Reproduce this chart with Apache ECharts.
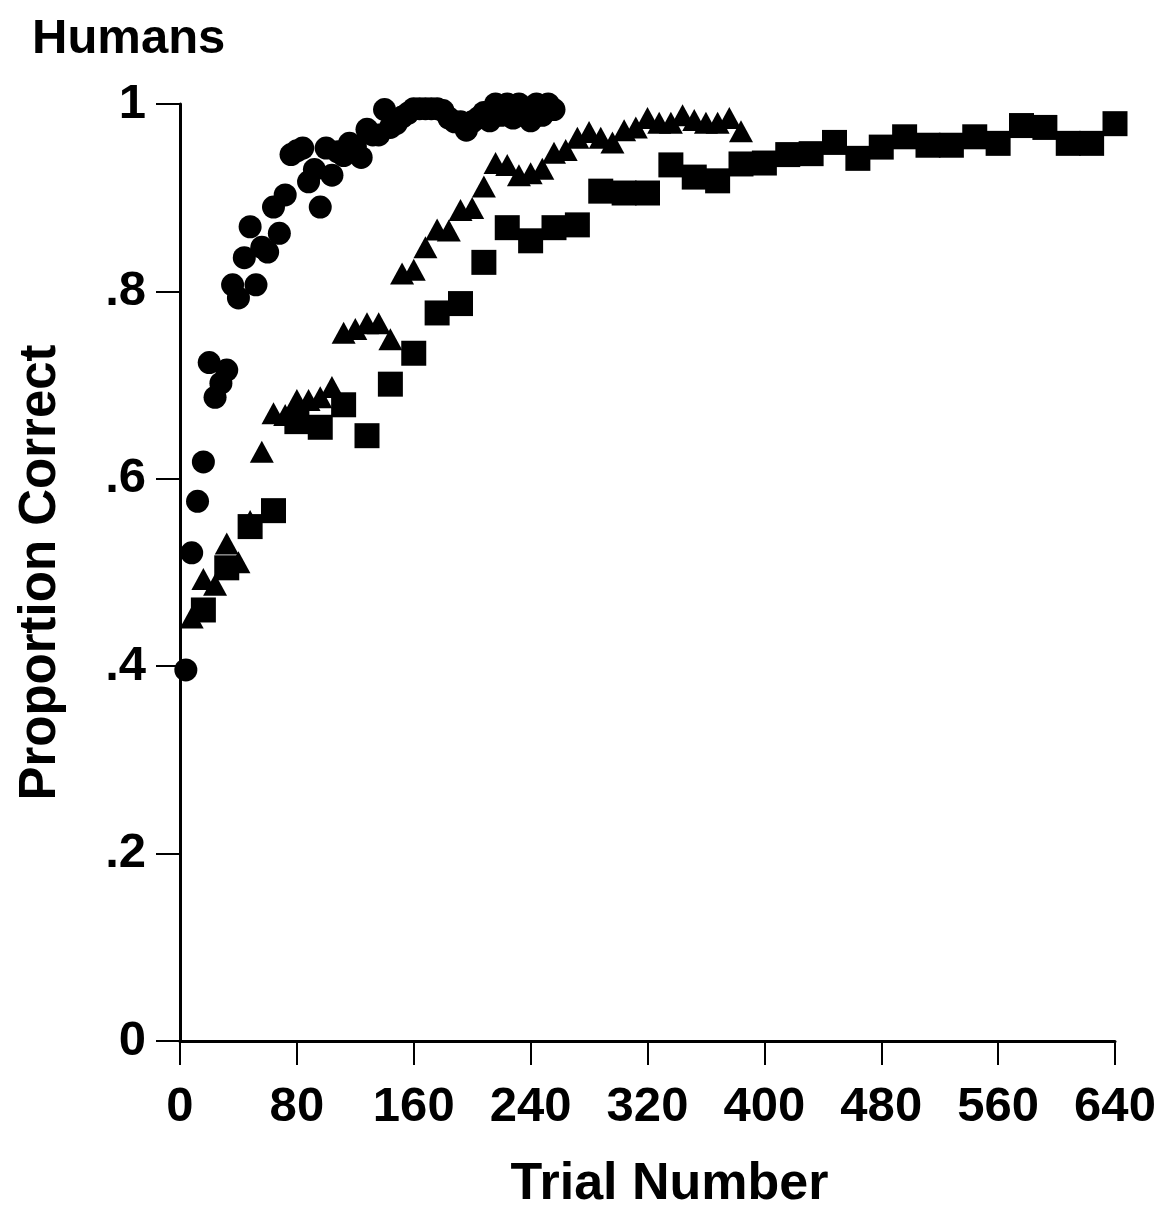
<!DOCTYPE html>
<html>
<head>
<meta charset="utf-8">
<script src="https://cdn.jsdelivr.net/npm/echarts@6/dist/echarts.min.js"></script>
<style>
html,body{margin:0;padding:0;background:#fff;}
#c{width:1173px;height:1212px;}
</style>
</head>
<body>
<div id="c"></div>
<script>
const chartTitle = 'Humans';
const xAxisName = 'Trial Number';
const yAxisName = 'Proportion Correct';
const xTicks = [0, 80, 160, 240, 320, 400, 480, 560, 640];
const yTickLabels = ['0', '.2', '.4', '.6', '.8', '1'];

// Circles: blocks of 4 trials
const circleTrials = [4,8,12,16,20,24,28,32,36,40,44,48,52,56,60,64,68,72,76,80,84,88,92,96,100,104,108,112,116,120,124,128,132,136,140,144,148,152,156,160,164,168,172,176,180,184,188,192,196,200,204,208,212,216,220,224,228,232,236,240,244,248,252,256];
const circleValues = [0.396,0.521,0.576,0.618,0.724,0.687,0.702,0.716,0.807,0.793,0.836,0.869,0.807,0.847,0.842,0.890,0.862,0.903,0.946,0.950,0.953,0.917,0.930,0.890,0.953,0.924,0.949,0.945,0.958,0.955,0.943,0.973,0.967,0.967,0.994,0.975,0.979,0.986,0.990,0.995,0.995,0.995,0.995,0.995,0.993,0.985,0.981,0.981,0.972,0.981,0.985,0.991,0.982,1.000,0.988,1.000,0.985,1.000,0.994,0.982,1.000,0.988,1.000,0.994];

// Triangles: blocks of 8 trials
const triangleTrials = [8,16,24,32,40,48,56,64,72,80,88,96,104,112,120,128,136,144,152,160,168,176,184,192,200,208,216,224,232,240,248,256,264,272,280,288,296,304,312,320,328,336,344,352,360,368,376,384];
const triangleValues = [0.452,0.493,0.487,0.531,0.511,0.555,0.629,0.670,0.668,0.684,0.684,0.687,0.698,0.756,0.760,0.766,0.766,0.749,0.819,0.823,0.847,0.866,0.865,0.887,0.889,0.912,0.937,0.935,0.924,0.926,0.931,0.948,0.951,0.964,0.970,0.964,0.959,0.972,0.975,0.985,0.980,0.980,0.988,0.983,0.980,0.980,0.985,0.971];

// Squares: blocks of 16 trials
const squareTrials = [16,32,48,64,80,96,112,128,144,160,176,192,208,224,240,256,272,288,304,320,336,352,368,384,400,416,432,448,464,480,496,512,528,544,560,576,592,608,624,640];
const squareValues = [0.460,0.505,0.549,0.566,0.661,0.655,0.679,0.646,0.701,0.734,0.777,0.787,0.831,0.868,0.854,0.868,0.871,0.907,0.905,0.905,0.935,0.922,0.918,0.936,0.937,0.946,0.947,0.959,0.942,0.954,0.965,0.956,0.956,0.965,0.958,0.977,0.975,0.958,0.958,0.979];

const pair = (xs, ys) => xs.map((x, i) => [x, ys[i]]);

const FONT = '"Liberation Sans", Arial, sans-serif';
const chart = echarts.init(document.getElementById('c'), null, {renderer: 'canvas'});
chart.setOption({
  backgroundColor: '#fff',
  animation: false,
  title: {
    text: chartTitle, left: 27, top: 10,
    textStyle: {fontFamily: FONT, fontWeight: 'bold', fontSize: 49, color: '#000'}
  },
  grid: {left: 180, right: 58, top: 104, bottom: 171, containLabel: false, outerBoundsMode: 'none'},
  xAxis: {
    type: 'value', min: 0, max: 640, interval: 80,
    name: xAxisName, nameLocation: 'middle', nameGap: 118,
    nameTextStyle: {fontFamily: FONT, fontWeight: 'bold', fontSize: 52, color: '#000', padding: [0, 0, 0, 44]},
    axisLine: {show: true, onZero: false, lineStyle: {color: '#000', width: 3}},
    axisTick: {show: true, inside: false, length: 24, lineStyle: {color: '#000', width: 2}},
    axisLabel: {fontFamily: FONT, fontWeight: 'bold', fontSize: 49, color: '#000', margin: 42,
      formatter: v => xTicks.includes(v) ? String(v) : ''},
    splitLine: {show: false}
  },
  yAxis: {
    type: 'value', min: 0, max: 1, interval: 0.2,
    name: yAxisName, nameLocation: 'middle', nameGap: 114, nameRotate: 90,
    nameTextStyle: {fontFamily: FONT, fontWeight: 'bold', fontSize: 51, color: '#000'},
    axisLine: {show: true, onZero: false, lineStyle: {color: '#000', width: 3}},
    axisTick: {show: true, inside: false, length: 24, lineStyle: {color: '#000', width: 2}},
    axisLabel: {fontFamily: FONT, fontWeight: 'bold', fontSize: 49, color: '#000', margin: 34,
      formatter: v => yTickLabels[Math.round(v * 5)]},
    splitLine: {show: false}
  },
  series: [
    {type: 'scatter', name: 'squares', symbol: 'rect', symbolSize: 25, z: 2,
     itemStyle: {color: '#000', opacity: 1}, data: pair(squareTrials, squareValues)},
    {type: 'scatter', name: 'triangles', symbol: 'triangle', symbolSize: [24, 22], z: 3,
     itemStyle: {color: '#000', opacity: 1}, data: pair(triangleTrials, triangleValues)},
    {type: 'scatter', name: 'circles', symbol: 'circle', symbolSize: 23, z: 4,
     itemStyle: {color: '#000', opacity: 1}, data: pair(circleTrials, circleValues)}
  ]
});
</script>
</body>
</html>
